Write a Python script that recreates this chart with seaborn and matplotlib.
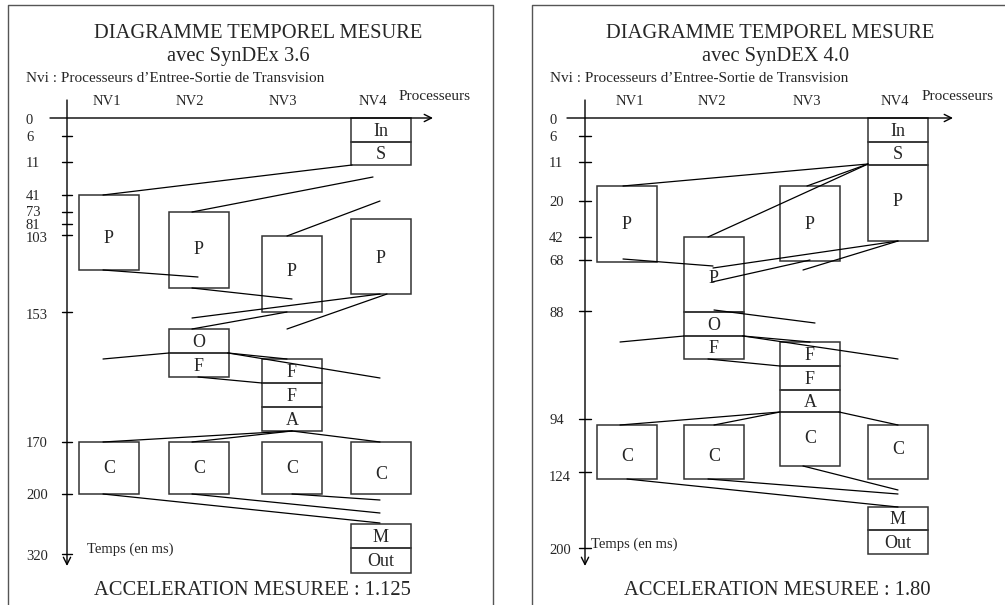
import matplotlib
matplotlib.use("Agg")
import matplotlib.pyplot as plt
import seaborn as sns
import pandas as pd
from matplotlib.patches import Rectangle

sns.set_theme(style="white")
plt.rcParams['font.family'] = ['Liberation Serif', 'DejaVu Serif']

PROCESSORS = ["NV1", "NV2", "NV3", "NV4"]

# ---------------- Left panel : SynDEx 3.6 ----------------
L_TITLE = "DIAGRAMME TEMPOREL MESURE"
L_SUB = "avec SynDEx 3.6"
L_NOTE = "Nvi : Processeurs d\u2019Entree-Sortie de Transvision"
L_ACCEL = "ACCELERATION MESUREE : 1.125"
L_TICK_LABELS = ["0", "6", "11", "41", "73", "81", "103", "153", "170", "200", "320"]
L_TICK_Y = [118, 136, 162, 195, 212, 224, 235, 312, 442, 494, 554]
L_LABEL_Y = [119, 136, 162, 195, 211, 224, 237, 314, 442, 494, 555]
# (processor index, top, bottom, text, text centre)
L_BOXES = [
    (3, 118, 142, "In", 130), (3, 142, 165, "S", 153),
    (0, 195, 270, "P", 237), (1, 212, 288, "P", 248),
    (2, 236, 312, "P", 270), (3, 219, 294, "P", 257),
    (1, 329, 353, "O", 341), (1, 353, 377, "F", 365),
    (2, 359, 383, "F", 371), (2, 383, 407, "F", 395), (2, 407, 431, "A", 419),
    (0, 442, 494, "C", 467), (1, 442, 494, "C", 467),
    (2, 442, 494, "C", 467), (3, 442, 494, "C", 473),
    (3, 524, 548, "M", 536), (3, 548, 573, "Out", 560),
]
L_LINKS = [
    (352, 165, 103, 195), (373, 177, 192, 212), (380, 201, 287, 236),
    (103, 270, 198, 277), (192, 288, 292, 299), (380, 294, 192, 318),
    (387, 294, 287, 329), (287, 312, 192, 329), (103, 359, 169, 353),
    (228, 353, 287, 359), (228, 353, 380, 378), (198, 377, 262, 383),
    (292, 431, 103, 442), (292, 431, 192, 442), (292, 431, 380, 442),
    (103, 494, 380, 523), (192, 494, 380, 513), (292, 494, 380, 500),
]

# ---------------- Right panel : SynDEX 4.0 ----------------
R_TITLE = "DIAGRAMME TEMPOREL MESURE"
R_SUB = "avec SynDEX 4.0"
R_NOTE = "Nvi : Processeurs d\u2019Entree-Sortie de Transvision"
R_ACCEL = "ACCELERATION MESUREE : 1.80"
R_TICK_LABELS = ["0", "6", "11", "20", "42", "68", "88", "94", "124", "200"]
R_TICK_Y = [118, 136, 162, 201, 237, 260, 311, 419, 472, 548]
R_LABEL_Y = [119, 136, 162, 201, 237, 260, 312, 419, 476, 549]
R_BOXES = [
    (3, 118, 142, "In", 130), (3, 142, 165, "S", 153), (3, 165, 241, "P", 200),
    (0, 186, 262, "P", 223), (2, 186, 261, "P", 223),
    (1, 237, 312, "P", 277), (1, 312, 336, "O", 324), (1, 336, 359, "F", 347),
    (2, 342, 366, "F", 354), (2, 366, 390, "F", 378), (2, 390, 412, "A", 401),
    (2, 412, 466, "C", 437),
    (0, 425, 479, "C", 455), (1, 425, 479, "C", 455), (3, 425, 479, "C", 448),
    (3, 507, 530, "M", 518), (3, 530, 554, "Out", 542),
]
R_LINKS = [
    (868, 164, 623, 186), (868, 164, 807, 186), (868, 164, 708, 237),
    (623, 259, 713, 266), (898, 241, 713, 268), (810, 260, 712, 282),
    (898, 241, 803, 270), (714, 310, 815, 323), (620, 342, 684, 336),
    (743, 336, 810, 342), (743, 336, 898, 359), (708, 359, 780, 366),
    (780, 412, 620, 425), (780, 412, 714, 425), (839, 412, 898, 425),
    (627, 479, 898, 507), (708, 479, 898, 494), (803, 466, 898, 490),
]

# ---------------- layout ----------------
PANELS = [
    dict(title=L_TITLE, sub=L_SUB, note=L_NOTE, accel=L_ACCEL,
         tlabels=L_TICK_LABELS, ty=L_TICK_Y, tly=L_LABEL_Y, boxes=L_BOXES, links=L_LINKS,
         col_left=[79, 169, 262, 351], col_lab=[107, 190, 283, 373],
         title_x=258, sub_x=238, note_x=26, accel_x=252,
         axis_x=67, hx0=50, hx1=433, tick_x=(62, 72), tlab_x=26,
         proc_x=399, temps_x=87, temps_y=553,
         frame=([8, 8, 493, 493], [605, 5, 5, 605])),
    dict(title=R_TITLE, sub=R_SUB, note=R_NOTE, accel=R_ACCEL,
         tlabels=R_TICK_LABELS, ty=R_TICK_Y, tly=R_LABEL_Y, boxes=R_BOXES, links=R_LINKS,
         col_left=[597, 684, 780, 868], col_lab=[630, 712, 807, 895],
         title_x=770, sub_x=776, note_x=550, accel_x=777,
         axis_x=585, hx0=567, hx1=953, tick_x=(579, 591), tlab_x=549,
         proc_x=922, temps_x=591, temps_y=548,
         frame=([532, 532, 1005], [605, 5, 5])),
]
BOX_W = 60

fig = plt.figure(figsize=(10.05, 6.05), dpi=100)
ax = fig.add_axes([0, 0, 1, 1])

rows = []
for pi, p in enumerate(PANELS):
    for li, (x0, y0, x1, y1) in enumerate(p["links"]):
        rows.append(dict(x=x0, y=y0, link=f"{pi}-{li}"))
        rows.append(dict(x=x1, y=y1, link=f"{pi}-{li}"))
df_links = pd.DataFrame(rows)
sns.lineplot(data=df_links, x="x", y="y", units="link", estimator=None, sort=False,
             color="black", lw=0.9, ax=ax, legend=False)

edge = "#333333"
for p in PANELS:
    fx, fy = p["frame"]
    ax.plot(fx, fy, color="#555555", lw=1.0)
    ax.text(p["title_x"], 38, p["title"], ha="center", va="baseline", fontsize=14.8)
    ax.text(p["sub_x"], 61, p["sub"], ha="center", va="baseline", fontsize=14.8)
    ax.text(p["note_x"], 82, p["note"], ha="left", va="baseline", fontsize=11)
    for name, cx in zip(PROCESSORS, p["col_lab"]):
        ax.text(cx, 105, name, ha="center", va="baseline", fontsize=10.5)
    ax.text(p["proc_x"], 100, "Processeurs", ha="left", va="baseline", fontsize=11)
    # axes arrows
    ax.annotate("", xy=(p["hx1"], 118), xytext=(p["hx0"], 118),
                arrowprops=dict(arrowstyle="->", lw=1.0, color="black",
                                shrinkA=0, shrinkB=0, mutation_scale=13))
    ax.annotate("", xy=(p["axis_x"], 566), xytext=(p["axis_x"], 100),
                arrowprops=dict(arrowstyle="->", lw=1.0, color="black",
                                shrinkA=0, shrinkB=0, mutation_scale=13))
    for lab, ty, tly in zip(p["tlabels"], p["ty"], p["tly"]):
        if lab != "0":
            ax.plot(p["tick_x"], [ty, ty], color="black", lw=1.0)
        ax.text(p["tlab_x"], tly + 5, lab, ha="left", va="baseline", fontsize=10.5)
    ax.text(p["temps_x"], p["temps_y"], "Temps (en ms)", ha="left", va="baseline", fontsize=10.5)
    for proc, top, bot, txt, ty in p["boxes"]:
        x0 = p["col_left"][proc]
        ax.add_patch(Rectangle((x0, top), BOX_W, bot - top, fill=False,
                               edgecolor=edge, lw=1.1))
        ax.text(x0 + BOX_W / 2, ty + 6, txt, ha="center", va="baseline", fontsize=13)
    ax.text(p["accel_x"], 595, p["accel"], ha="center", va="baseline", fontsize=14.8)

ax.set_xlim(0, 1005)
ax.set_ylim(605, 0)
ax.axis("off")
fig.savefig("out.png", dpi=100, facecolor="white")
